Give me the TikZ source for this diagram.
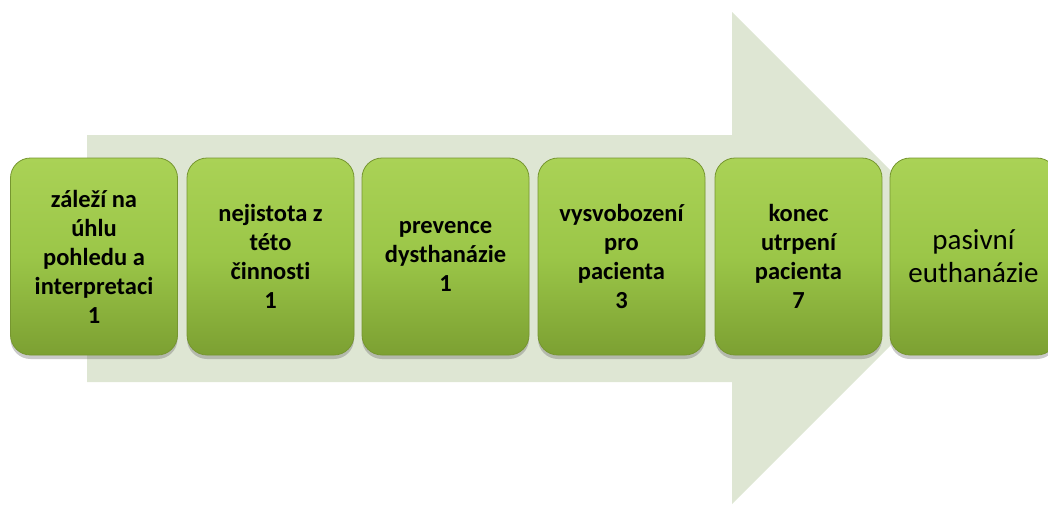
\documentclass[tikz,border=0pt]{standalone}
\usepackage{fontspec}
\setmainfont{Carlito}[Ligatures={NoCommon}]
\usetikzlibrary{shadows}
\definecolor{arrowfill}{RGB}{222,230,211}
\definecolor{boxtop}{RGB}{170,210,86}
\definecolor{boxmid}{RGB}{155,198,72}
\definecolor{boxbot}{RGB}{124,160,50}
\definecolor{boxrim}{RGB}{118,150,48}
\tikzset{
  stagebox/.style={rounded corners=20pt, minimum width=167pt, minimum height=197pt,
    inner sep=0pt, align=center, top color=boxtop, bottom color=boxbot, middle color=boxmid,
    draw=boxrim, line width=0.8pt,
    drop shadow={shadow xshift=0pt, shadow yshift=-4pt, opacity=0.35, fill=black!60},
    font=\bfseries\fontsize{24.5pt}{29pt}\selectfont, text=black},
  lastbox/.style={stagebox, font=\fontsize{29pt}{33pt}\selectfont}
}
\begin{document}
\begin{tikzpicture}[x=1pt,y=-1pt]
\useasboundingbox (0,0) rectangle (1048,504);
\clip (0,0) rectangle (1048,504);
% background arrow
\fill[arrowfill] (87,135) -- (732,135) -- (732,12) -- (978,258) -- (732,504) -- (732,382) -- (87,382) -- cycle;
% stage boxes
\node[stagebox] (b1) at (94,256.5) {záleží na\\úhlu\\pohledu a\\interpretaci\\1};
\node[stagebox] (b2) at (270.5,256.5) {nejistota z\\této\\činnosti\\1};
\node[stagebox] (b3) at (445.5,256.5) {prevence\\dysthanázie\\1};
\node[stagebox] (b4) at (621.5,256.5) {vysvobození\\pro\\pacienta\\3};
\node[stagebox] (b5) at (798.5,256.5) {konec\\utrpení\\pacienta\\7};
\node[lastbox] (b6) at (973.5,256.5) {pasivní\\euthanázie};
\end{tikzpicture}
\end{document}
